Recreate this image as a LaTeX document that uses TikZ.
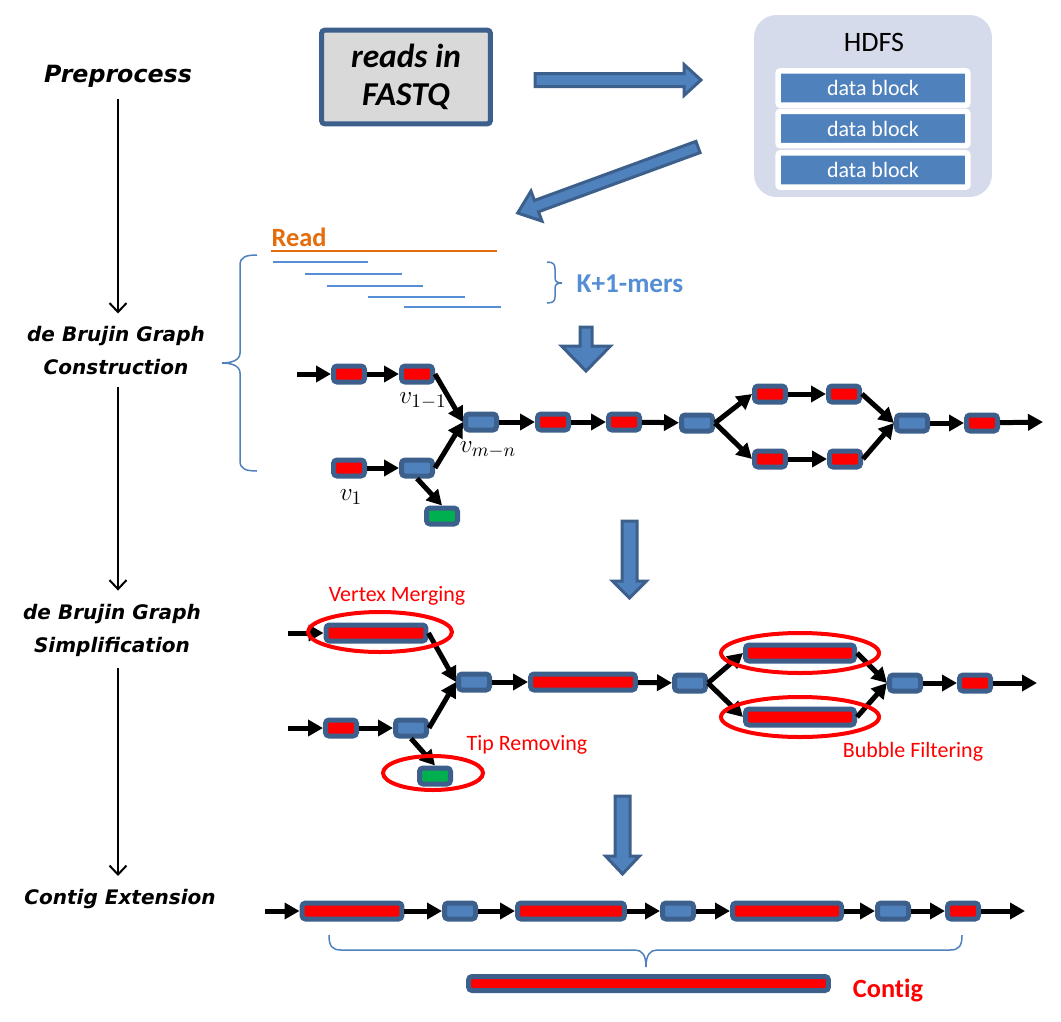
\documentclass[tikz,border=0pt]{standalone}
\usepackage{fontspec}
\setmainfont{Carlito}[Ligatures=NoCommon,Contextuals=NoAlternate]
\newfontfamily\stagefont{DejaVu Sans}
\usetikzlibrary{arrows.meta}

\definecolor{vtxborder}{RGB}{60,95,140}
\definecolor{vtxblue}{RGB}{79,129,189}
\definecolor{tipgreen}{RGB}{0,176,80}
\definecolor{hdfsfill}{RGB}{214,219,235}
\definecolor{fastqgray}{RGB}{217,217,217}
\definecolor{readorange}{RGB}{228,108,10}
\definecolor{kmerblue}{RGB}{85,142,213}

\tikzset{
  vertex/.style={rectangle,rounded corners=2pt,draw=vtxborder,line width=0.1cm,minimum width=0.62cm,minimum height=0.32cm,inner sep=0pt},
  red vertex/.style={vertex,fill=red},
  blue vertex/.style={vertex,fill=vtxblue},
  green vertex/.style={vertex,fill=tipgreen},
  merged/.style={red vertex,minimum width=#1},
  link/.style={line width=0.1cm,-{Triangle[length=0.3cm,width=0.32cm]}},
  flow/.style={line width=0.04cm,-{Straight Barb[length=0.18cm,width=0.34cm]}},
  ring/.style={draw=red,line width=0.08cm},
  fat arrow/.style={fill=vtxblue,draw=vtxborder,line width=0.06cm,line join=miter},
  curly/.style={draw=vtxblue,line width=0.03cm},
  stage/.style={font=\stagefont\bfseries\itshape\fontsize{11.4}{18.8}\selectfont,align=center},
  note/.style={text=red,font=\fontsize{12.5}{15}\selectfont},
  vlabel/.style={font=\fontsize{15}{17}\selectfont},
  datablock/.style={fill=vtxblue,draw=white,line width=0.11cm,rounded corners=1.5pt,minimum width=3.8cm,minimum height=0.69cm,text=white,font=\fontsize{12.5}{15}\selectfont},
}

% block arrow: start, angle, length, shaft half width, head half width, head length
\newcommand{\fatarrow}[6]{%
  \draw[fat arrow,shift={#1},rotate=#2] (0,-#4) -- ({#3-#6},-#4) -- ({#3-#6},-#5) -- (#3,0)
    -- ({#3-#6},#5) -- ({#3-#6},#4) -- (0,#4) -- cycle;}

\begin{document}
\begin{tikzpicture}[x=0.02cm,y=-0.02cm]
    \useasboundingbox (0,0) rectangle (1061,1021);

    % stages on the left
    \node[stage,font=\stagefont\bfseries\itshape\fontsize{13.5}{16}\selectfont] (pre) at (118,76) {Preprocess};
    \node[stage] (con) at (116,351) {de Brujin Graph\\Construction};
    \node[stage] (simp) at (112,630) {de Brujin Graph\\Simplification};
    \node[stage] (ext) at (120,899) {Contig Extension};
    \draw[flow,shorten <=3pt,shorten >=4pt] (pre.south) -- (pre.south |- con.north);
    \draw[flow,shorten <=3pt,shorten >=4pt] (pre.south |- con.south) -- (pre.south |- simp.north);
    \draw[flow,shorten <=3pt,shorten >=4pt] (pre.south |- simp.south) -- (pre.south |- ext.north);

    % preprocess
    \node[draw=vtxborder,line width=0.1cm,fill=fastqgray,rounded corners=2pt,minimum width=3.38cm,minimum height=1.88cm,
          align=center,font=\bfseries\itshape\fontsize{19}{21.5}\selectfont] (fastq) at (406,77) {reads in\\FASTQ};
    \node[fill=hdfsfill,rounded corners=0.45cm,minimum width=4.76cm,minimum height=3.64cm] (hdfs) at (873,106) {};
    \node[font=\fontsize{16}{19}\selectfont] (hdfslabel) at (874,42) {HDFS};
    \foreach \y [count=\i] in {88,128.5,170}
        \node[datablock] (blk\i) at (873,\y) {data block};
    \fatarrow{(535,80)}{0}{166}{6.5}{15.5}{17}
    \fatarrow{(698,147)}{200.1}{192}{6}{16}{20}

    % k+1-mers
    \node[text=readorange,font=\bfseries\fontsize{15}{18}\selectfont] (read) at (299,237) {Read};
    \draw[readorange,line width=0.05cm] (271,251) -- (497,251);
    \foreach \a/\b/\y in {273/368/262,305/402/274,327/423/286,368/465/297,404/501/307}
        \draw[kmerblue,line width=0.04cm] (\a,\y) -- (\b,\y);
    \draw[curly] (547,262) .. controls (553,262) and (555,264) .. (555,269) -- (555,278)
        .. controls (555,282) and (558,283) .. (562,283) .. controls (558,283) and (555,284) .. (555,288)
        -- (555,297) .. controls (555,301) and (553,303) .. (547,303);
    \node[text=kmerblue,font=\bfseries\fontsize{15.5}{18}\selectfont] (kmer) at (630,284) {K+1-mers};
    \draw[curly] (257,255) .. controls (246,255) and (240,257) .. (240,265) -- (240,353)
        .. controls (240,360) and (232,363) .. (222,363) .. controls (232,363) and (240,366) .. (240,373)
        -- (240,461) .. controls (240,469) and (246,471) .. (257,471);
    \fatarrow{(586,327)}{-90}{44}{6}{24.5}{25}

    % de Bruijn graph
    \coordinate (in1) at (297,374);
    \coordinate (out1) at (1043,422);
    \node[red vertex] (n1) at (349,374) {};
    \node[red vertex] (n2) at (417,374) {};
    \node[blue vertex] (n3) at (481,422) {};
    \node[red vertex] (n4) at (553,422) {};
    \node[red vertex] (n5) at (624,422) {};
    \node[blue vertex] (n6) at (697,423) {};
    \node[red vertex] (n7) at (770,394) {};
    \node[red vertex] (n8) at (844,394) {};
    \node[red vertex] (n9) at (770,459) {};
    \node[red vertex] (n10) at (845,459) {};
    \node[blue vertex] (n11) at (912,423) {};
    \node[red vertex] (n12) at (982,423) {};
    \node[red vertex] (l1) at (349,468) {};
    \node[blue vertex] (l2) at (417,468) {};
    \node[green vertex] (tip1) at (442,516) {};
    \node[vlabel] (lab1) at (423,401) {$v_{1-1}$};
    \node[vlabel] (lab2) at (488,450) {$v_{m-n}$};
    \node[vlabel] (lab3) at (351,497) {$v_1$};

    \path[link]
        (in1) edge (n1)
        (n1) edge (n2)
        (n2.east) edge (n3.west)
        (l1) edge (l2)
        (l2.east) edge (n3.west)
        (l2.south) edge (tip1.north)
        (n3) edge (n4)
        (n4) edge (n5)
        (n5) edge (n6)
        (n6.east) edge (n7.west)
        (n6.east) edge (n9.west)
        (n7) edge (n8)
        (n9) edge (n10)
        (n8.east) edge (n11.west)
        (n10.east) edge (n11.west)
        (n11) edge (n12)
        (n12) edge (out1)
        ;
    \fatarrow{(629.5,521)}{-90}{77}{7.5}{17}{17}

    % simplified graph
    \coordinate (in2) at (288,633);
    \coordinate (in3) at (288,728);
    \coordinate (out2) at (1037,683);
    \node[merged=2cm] (m1) at (376,633) {};
    \node[blue vertex] (m2) at (474,682) {};
    \node[merged=2.1cm] (m3) at (583,682) {};
    \node[blue vertex] (m4) at (690,683) {};
    \node[merged=2.18cm] (m5) at (800,653) {};
    \node[merged=2.18cm] (m6) at (800,717) {};
    \node[blue vertex] (m7) at (905,683) {};
    \node[red vertex] (m8) at (975,683) {};
    \node[red vertex] (u1) at (341,728) {};
    \node[blue vertex] (u2) at (411,728) {};
    \node[green vertex] (tip2) at (435,776) {};

    \path[link]
        (in2) edge (m1)
        (m1.east) edge (m2.west)
        (in3) edge (u1)
        (u1) edge (u2)
        (u2.east) edge (m2.west)
        (u2.south) edge (tip2.north)
        (m2) edge (m3)
        (m3) edge (m4)
        (m4.east) edge (m5.west)
        (m4.east) edge (m6.west)
        (m5.east) edge (m7.west)
        (m6.east) edge (m7.west)
        (m7) edge (m8)
        (m8) edge (out2)
        ;
    \draw[ring] (380,632) ellipse [x radius=72,y radius=20];
    \draw[ring] (433,773) ellipse [x radius=50,y radius=17];
    \draw[ring] (800,653) ellipse [x radius=79,y radius=20];
    \draw[ring] (800,717) ellipse [x radius=79,y radius=20];
    \node[note] (merging) at (397,596) {Vertex Merging};
    \node[note] (tipping) at (527,745) {Tip Removing};
    \node[note] (bubble) at (913,752) {Bubble Filtering};
    \fatarrow{(622.5,796)}{-90}{78}{7.5}{17}{18}

    % contig extension
    \coordinate (in4) at (265,911);
    \coordinate (out4) at (1025,911);
    \node[merged=2cm] (c1) at (352,911) {};
    \node[blue vertex] (c2) at (460,911) {};
    \node[merged=2.14cm] (c3) at (571,911) {};
    \node[blue vertex] (c4) at (678,911) {};
    \node[merged=2.18cm] (c5) at (787,911) {};
    \node[blue vertex] (c6) at (893,911) {};
    \node[red vertex] (c7) at (963,911) {};
    \path[link]
        (in4) edge (c1)
        (c1) edge (c2)
        (c2) edge (c3)
        (c3) edge (c4)
        (c4) edge (c5)
        (c5) edge (c6)
        (c6) edge (c7)
        (c7) edge (out4)
        ;
    \draw[curly] (329,935) .. controls (329,946) and (332,950) .. (341,950) -- (635,950)
        .. controls (642,950) and (646,955) .. (646,967) .. controls (646,955) and (650,950) .. (657,950)
        -- (950,950) .. controls (959,950) and (962,946) .. (962,935);
    \node[merged=7.2cm,minimum height=0.28cm] (contig) at (648.5,983.5) {};
    \node[text=red,font=\bfseries\fontsize{15}{18}\selectfont] (contiglabel) at (888,990) {Contig};
\end{tikzpicture}
\end{document}
